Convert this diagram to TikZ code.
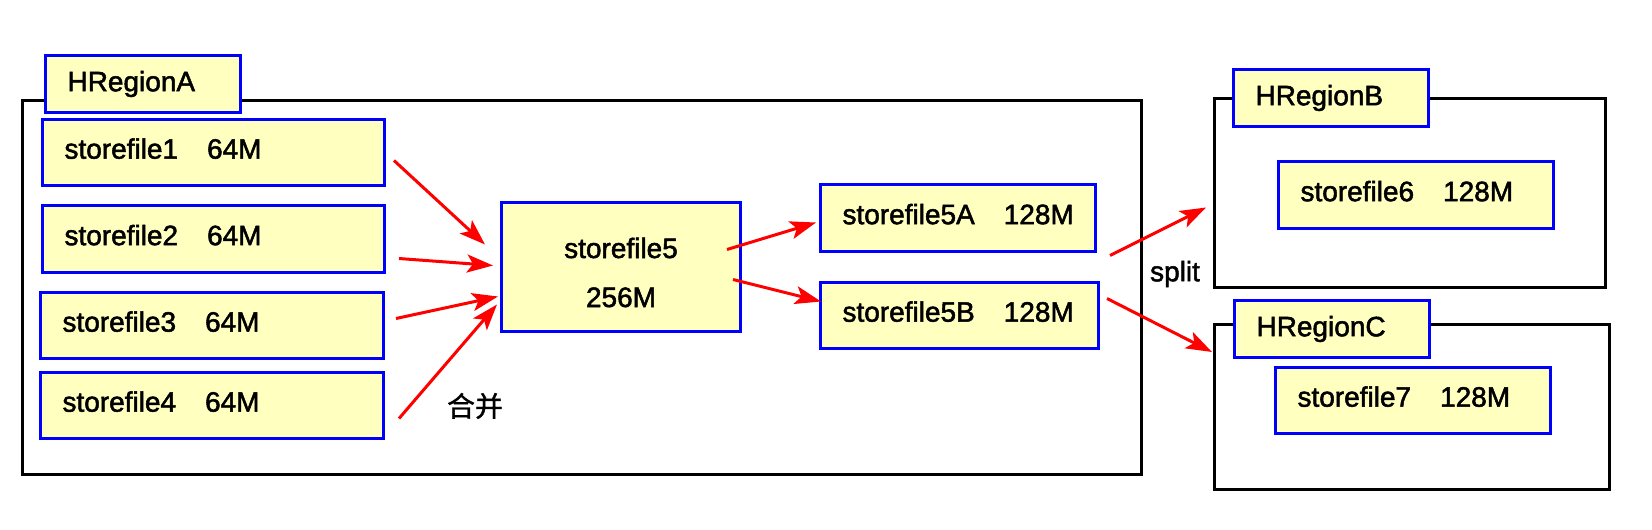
\documentclass[tikz,border=0pt]{standalone}
\usepackage{fontspec}
\setmainfont{Liberation Sans}[FakeBold=1.8]
\newfontfamily\cjkfont{Noto Sans CJK SC}[FakeBold=1.0]
\usetikzlibrary{arrows.meta,calc}
\definecolor{fillY}{RGB}{255,255,192}
\begin{document}
\begin{tikzpicture}[x=1pt,y=-1pt,font=\fontsize{28}{34}\selectfont,
  region/.style={draw=black,line width=3pt,inner sep=0pt,anchor=north west},
  sfbox/.style={draw=blue,fill=fillY,line width=3pt,inner xsep=22pt,inner ysep=0pt,align=left,anchor=north west,text depth=8pt},
  labbox/.style={draw=blue,fill=fillY,line width=3pt,inner xsep=22pt,inner ysep=0pt,align=left,anchor=north west},
  arr/.style={draw=red,line width=3pt,-{Stealth[length=26pt,width=18pt,inset=6pt]}},
  plain/.style={inner sep=0pt}]
\useasboundingbox (0,0) rectangle (1652,530);
% outer region boxes
\node[region,minimum width=1119pt,minimum height=374pt] (boxA) at (21,99) {};
\node[region,minimum width=391pt,minimum height=189pt] (boxB) at (1213,97) {};
\node[region,minimum width=395pt,minimum height=165pt] (boxC) at (1213,323) {};
% region labels
\node[labbox,text width=151pt,minimum height=57pt] (labA) at (44,54) {\mbox{HRegionA}};
\node[labbox,text width=151pt,minimum height=57pt] (labB) at (1232,68) {\mbox{HRegionB}};
\node[labbox,text width=151pt,minimum height=57pt] (labC) at (1233,299) {\mbox{HRegionC}};
% store files
\node[sfbox,text width=298pt,minimum height=66pt] (sf1) at (41,118) {\mbox{storefile1\hspace{29pt}64M}};
\node[sfbox,text width=298pt,minimum height=67pt] (sf2) at (41,204) {\mbox{storefile2\hspace{29pt}64M}};
\node[sfbox,text width=299pt,minimum height=66pt] (sf3) at (39,291) {\mbox{storefile3\hspace{29pt}64M}};
\node[sfbox,text width=299pt,minimum height=66pt] (sf4) at (39,371) {\mbox{storefile4\hspace{29pt}64M}};
\node[draw=blue,fill=fillY,line width=3pt,inner sep=0pt,anchor=north west,align=center,
      minimum width=239pt,minimum height=129pt,text height=80pt,text depth=0pt,
      font=\fontsize{28}{49}\selectfont] (sf5) at (500,201) {storefile5\\256M};
\node[sfbox,text width=231pt,minimum height=67pt] (sf5A) at (819,183) {\mbox{storefile5A\hspace{29pt}128M}};
\node[sfbox,text width=234pt,minimum height=66pt] (sf5B) at (819,281) {\mbox{storefile5B\hspace{29pt}128M}};
\node[sfbox,text width=231pt,minimum height=67pt] (sf6) at (1277,160) {\mbox{storefile6\hspace{29pt}128M}};
\node[sfbox,text width=231pt,minimum height=66pt] (sf7) at (1274,366) {\mbox{storefile7\hspace{29pt}128M}};
% labels
\node[plain] (split) at (1175,274) {split};
\node[plain,font=\cjkfont\fontsize{28}{34}\selectfont] (merge) at (475,406) {合并};
% arrows
\draw[arr] ($(sf1.east)+(8,8)$) -- ($(sf5.west)+(-15,-22.5)$);
\draw[arr] ($(sf2.east)+(13,19.5)$) -- ($(sf5.west)+(-7,-1.5)$);
\draw[arr] ($(sf3.east)+(11,-7)$) -- ($(sf5.west)+(-2,29.5)$);
\draw[arr] ($(sf4.east)+(14,13)$) -- ($(sf5.west)+(-3,37.5)$);
\draw[arr] ($(sf5.east)+(-15,-17.5)$) -- ($(sf5A.west)+(-3,4.5)$);
\draw[arr] ($(sf5.east)+(-9,12.5)$) -- ($(sf5B.west)+(2,-14)$);
\draw[arr] ($(sf5A.east)+(13,37.5)$) -- ($(boxB.west)+(-7,14.5)$);
\draw[arr] ($(sf5B.east)+(7,-17)$) -- ($(boxC.north west)+(-1,29)$);
\end{tikzpicture}
\end{document}
